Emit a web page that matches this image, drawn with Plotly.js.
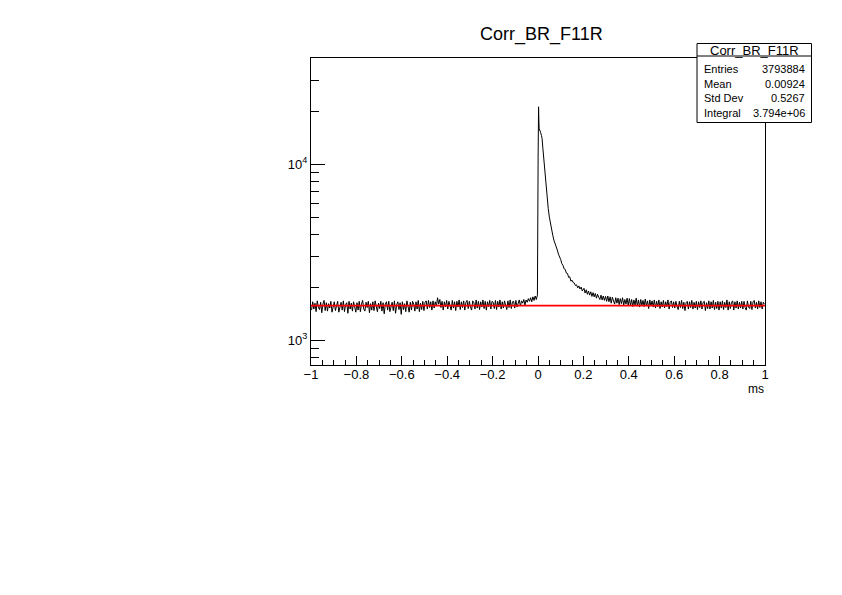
<!DOCTYPE html>
<html>
<head>
<meta charset="utf-8">
<script src="https://cdn.plot.ly/plotly-3.0.1.min.js"></script>
<style>html,body{margin:0;padding:0;background:#fff;}#chart{width:842px;height:595px;}</style>
</head>
<body>
<div id="chart"></div>
<script>
// ---- data ----
const histTitle = "Corr_BR_F11R";
const xAxisTitle = "ms";
const binWidth = 0.005;
// counts for bin centres -0.9975 ... -0.0025
const leftCounts = [
1480,1650,1500,1620,1450,1670,1540,1490,1640,1430,1600,1680,1470,1630,1460,1610,1520,1660,1440,1590,
1650,1470,1600,1660,1440,1530,1640,1480,1670,1450,1590,1630,1420,1660,1500,1620,1460,1650,1540,1440,
1630,1480,1660,1450,1600,1680,1500,1460,1640,1530,1660,1430,1610,1480,1650,1470,1670,1520,1450,1620,
1510,1660,1460,1630,1410,1600,1650,1480,1660,1450,1580,1640,1470,1670,1420,1590,1650,1490,1630,1400,
1650,1490,1610,1450,1670,1530,1440,1640,1480,1660,1600,1460,1650,1500,1680,1450,1620,1490,1660,1470,
1640,1670,1500,1680,1530,1650,1480,1670,1520,1650,1560,1740,1600,1700,1530,1660,1480,1650,1540,1680,
1500,1660,1560,1480,1680,1520,1650,1470,1660,1540,1690,1490,1650,1530,1670,1480,1640,1680,1510,1660,
1540,1480,1670,1630,1500,1690,1520,1660,1490,1650,1540,1690,1510,1660,1480,1650,1550,1680,1500,1660,
1640,1510,1680,1490,1660,1540,1690,1500,1650,1520,1670,1560,1490,1670,1530,1690,1510,1650,1660,1520,
1680,1540,1650,1690,1560,1670,1620,1700,1580,1690,1640,1720,1660,1740,1650,1760,1680,1780,1700,1800];
// peak region: bin centres and counts
const peakX = [0.0005,0.0015,0.0025,0.0035,0.005,0.008,0.011,0.015,0.018,0.021,0.025,0.030,0.035,0.040,0.045,0.050,0.055,0.060,0.065,0.070,0.075,0.080,0.085,0.090,0.095,0.100,0.105,0.110,0.115,0.120,0.125,0.130,0.135,0.140,0.145,0.150,0.155,0.160,0.165,0.170,0.175,0.180,0.185,0.190,0.195,0.200];
const peakCounts = [11000,18000,21200,18500,16000,15300,15200,14600,14000,12500,10800,9000,7600,6500,5600,5000,4550,4200,3950,3700,3560,3380,3250,3080,2980,2870,2720,2660,2540,2520,2400,2390,2270,2290,2160,2190,2120,2110,2040,2060,1980,2030,1950,2000,1900,1960];
// counts for bin centres 0.2025 ... 0.9975
const rightCounts = [
1970,1850,1930,1820,1900,1800,1880,1770,1860,1760,1840,1730,1820,1750,1700,1800,1690,1780,1680,1770,
1660,1780,1650,1760,1620,1750,1640,1600,1740,1620,1730,1590,1720,1610,1740,1580,1700,1600,1730,1570,
1720,1570,1700,1550,1690,1580,1730,1560,1690,1540,1700,1570,1680,1550,1710,1560,1670,1510,1690,1560,
1670,1540,1690,1520,1660,1550,1690,1510,1650,1540,1680,1520,1650,1550,1690,1500,1640,1670,1530,1650,
1520,1660,1550,1490,1660,1530,1680,1510,1640,1470,1630,1660,1500,1650,1530,1680,1500,1640,1520,1660,
1490,1650,1530,1670,1500,1640,1660,1470,1630,1510,1670,1500,1650,1520,1680,1490,1640,1510,1660,1480,
1650,1520,1670,1490,1640,1530,1690,1480,1650,1510,1640,1670,1480,1650,1520,1670,1500,1640,1520,1660,
1500,1660,1530,1480,1670,1540,1510,1660,1490,1650,1680,1520,1640,1500,1670,1530,1650,1500,1640,1600];
const fitLevel = 1570;
const fitRange = [-1, 1];
const statsLabels = ["Entries","Mean","Std Dev","Integral"];
const statsValues = ["3793884","0.00924","0.5267","3.794e+06"];
const yTickVals = [1000, 10000];
const yTickText = ["10<sup>3</sup>","10<sup>4</sup>"];
const yMinorVals = [800,900,2000,3000,4000,5000,6000,7000,8000,9000,20000,30000,40000];

// ---- assemble ----
const xs = [], ys = [];
leftCounts.forEach((c,i)=>{ xs.push(-1 + binWidth/2 + i*binWidth); ys.push(c); });
peakX.forEach((x,i)=>{ xs.push(x); ys.push(peakCounts[i]); });
rightCounts.forEach((c,i)=>{ xs.push(0.2 + binWidth/2 + i*binWidth); ys.push(c); });

const L = 311, R = 765, T = 58, B = 365, W = 842, H = 595;
const px = p => (p - L) / (R - L);
const py = p => (B - p) / (B - T);
const font = "Liberation Sans, Arial, Helvetica, sans-serif";

const traces = [
  {x: xs, y: ys, type: 'scatter', mode: 'lines', line: {color: '#000', width: 1}, hoverinfo: 'skip'},
  {x: fitRange, y: [fitLevel, fitLevel], type: 'scatter', mode: 'lines', line: {color: '#ff0000', width: 1.6}, hoverinfo: 'skip'}
];

const annotations = [
  {text: histTitle, xref: 'paper', yref: 'paper', x: px(541), y: py(35), xanchor: 'center', yanchor: 'middle', showarrow: false, font: {family: font, size: 18, color: '#000'}},
  {text: xAxisTitle, xref: 'paper', yref: 'paper', x: px(766), y: py(389), xanchor: 'right', yanchor: 'middle', showarrow: false, font: {family: font, size: 12, color: '#000'}},
  {text: histTitle, xref: 'paper', yref: 'paper', x: px(754), y: py(50), xanchor: 'center', yanchor: 'middle', showarrow: false, font: {family: font, size: 13, color: '#000'}}
];
const rowY = [69, 84, 98.5, 112.5];
statsLabels.forEach((lab,i)=>{
  annotations.push({text: lab, xref: 'paper', yref: 'paper', x: px(702), y: py(rowY[i]), xanchor: 'left', yanchor: 'middle', showarrow: false, font: {family: font, size: 11, color: '#000'}});
  annotations.push({text: statsValues[i], xref: 'paper', yref: 'paper', x: px(807), y: py(rowY[i]), xanchor: 'right', yanchor: 'middle', showarrow: false, font: {family: font, size: 11, color: '#000'}});
});

const shapes = [
  {type: 'rect', xref: 'paper', yref: 'paper', x0: px(697), x1: px(811.5), y0: py(122.5), y1: py(43.5), line: {color: '#000', width: 1}, fillcolor: '#fff', layer: 'above'},
  {type: 'line', xref: 'paper', yref: 'paper', x0: px(697), x1: px(811.5), y0: py(56), y1: py(56), line: {color: '#000', width: 1}, layer: 'above'}
];

const layout = {
  width: W, height: H,
  margin: {l: L, r: W - R, t: T, b: H - B, pad: 0},
  paper_bgcolor: '#fff', plot_bgcolor: '#fff',
  showlegend: false,
  font: {family: font, size: 13, color: '#000'},
  xaxis: {
    range: [-1, 1], tick0: -1, dtick: 0.2, ticks: 'inside', ticklen: 9, tickwidth: 1, tickcolor: '#000',
    showline: true, linecolor: '#000', linewidth: 1, mirror: true, showgrid: false, zeroline: false,
    ticklabelstandoff: -3,
    minor: {dtick: 0.05, tick0: -1, ticks: 'inside', ticklen: 5, tickcolor: '#000', showgrid: false},
    tickfont: {family: font, size: 13, color: '#000'}
  },
  yaxis: {
    type: 'log', range: [Math.log10(721), Math.log10(40180)],
    tickmode: 'array', tickvals: yTickVals, ticktext: yTickText,
    ticks: 'inside', ticklen: 14, tickwidth: 1, tickcolor: '#000',
    minor: {tickmode: 'array', tickvals: yMinorVals, ticks: 'inside', ticklen: 8, tickcolor: '#000', showgrid: false},
    showline: true, linecolor: '#000', linewidth: 1, mirror: true, showgrid: false, zeroline: false,
    tickfont: {family: font, size: 13, color: '#000'}
  },
  annotations: annotations,
  shapes: shapes
};

Plotly.newPlot('chart', traces, layout, {staticPlot: true, displayModeBar: false});
</script>
</body>
</html>
